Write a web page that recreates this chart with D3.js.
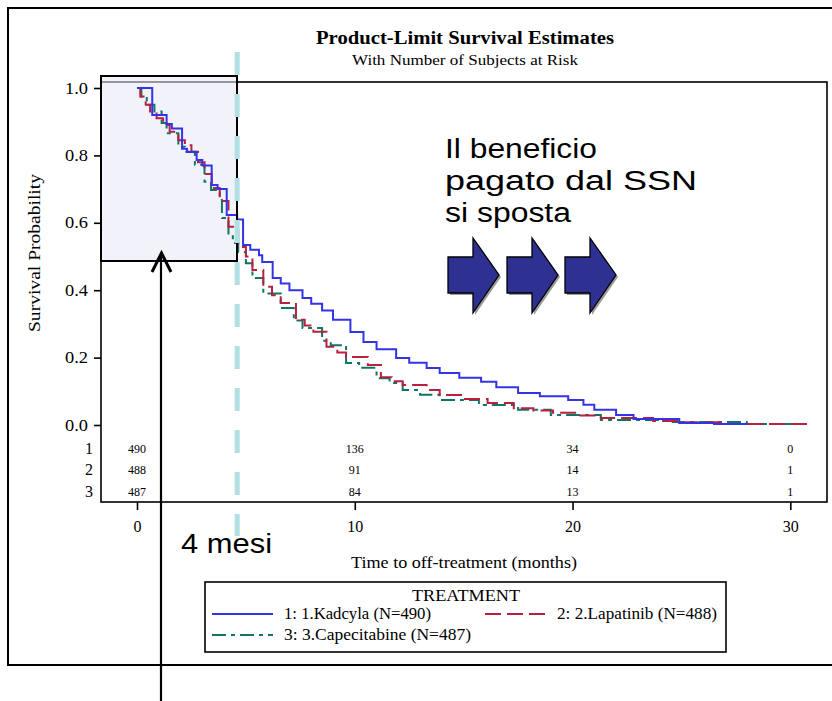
<!DOCTYPE html>
<html>
<head>
<meta charset="utf-8">
<script src="https://cdn.jsdelivr.net/npm/d3@7/dist/d3.min.js"></script>
<style>
  html, body { margin: 0; padding: 0; background: #fff; }
  svg { display: block; }
</style>
</head>
<body>
<svg id="chart" width="832" height="701"></svg>
<script>
// ---------- DATA ----------
const seriesNames = ["1: 1.Kadcyla (N=490)", "2: 2.Lapatinib (N=488)", "3: 3.Capecitabine (N=487)"];
const seriesIds = ["1", "2", "3"];

const kadcylaT = [0, 0.7, 1.36, 1.6, 2.07, 2.3, 2.74, 3.0, 3.43, 3.7, 4.12, 4.6, 4.87, 5.2, 5.6, 5.75, 6.23, 6.6, 7.0, 7.6, 8.0, 8.5, 9.0, 9.8, 10.4, 11.0, 11.9, 12.5, 13.3, 13.9, 14.8, 15.8, 16.5, 17.5, 18.5, 19.8, 20.5, 21.0, 22.0, 22.8, 24.9, 26.5, 28.0];
const kadcylaS = [1.0, 0.92, 0.893, 0.88, 0.82, 0.81, 0.786, 0.77, 0.712, 0.70, 0.623, 0.61, 0.534, 0.52, 0.504, 0.484, 0.436, 0.42, 0.40, 0.377, 0.36, 0.34, 0.312, 0.276, 0.246, 0.225, 0.199, 0.185, 0.169, 0.154, 0.14, 0.128, 0.112, 0.095, 0.085, 0.074, 0.06, 0.045, 0.03, 0.018, 0.006, 0.003, 0.0];

const lapatinibT = [0, 0.15, 0.4, 0.6, 0.9, 1.2, 1.5, 1.9, 2.2, 2.5, 2.8, 3.1, 3.43, 3.8, 4.2, 4.65, 5.0, 5.3, 5.8, 6.2, 6.6, 7.3, 7.7, 8.1, 8.7, 9.2, 9.6, 10.6, 11.2, 11.7, 12.2, 13.3, 13.9, 15.0, 16.1, 17.3, 18.2, 19.1, 20.2, 21.3, 23.7, 25.0, 26.8, 30.8];
const lapatinibS = [1.0, 0.975, 0.95, 0.93, 0.91, 0.89, 0.87, 0.845, 0.83, 0.811, 0.78, 0.745, 0.703, 0.665, 0.588, 0.528, 0.50, 0.46, 0.41, 0.385, 0.362, 0.312, 0.295, 0.277, 0.232, 0.215, 0.202, 0.178, 0.142, 0.13, 0.119, 0.104, 0.089, 0.077, 0.065, 0.05, 0.043, 0.036, 0.028, 0.021, 0.012, 0.008, 0.003, 0.003];

const capecitabineT = [0, 0.2, 0.45, 0.8, 1.13, 1.36, 1.9, 2.2, 2.66, 3.1, 3.4, 3.8, 3.9, 4.2, 4.4, 4.65, 5.0, 5.3, 5.8, 6.6, 7.2, 7.6, 8.5, 8.9, 9.6, 10.2, 11.0, 11.6, 12.2, 13.0, 13.9, 15.7, 17.5, 19.0, 21.3, 24.6, 28.0, 30.8];
const capecitabineS = [1.0, 0.97, 0.95, 0.93, 0.896, 0.866, 0.826, 0.811, 0.772, 0.722, 0.697, 0.674, 0.614, 0.564, 0.54, 0.513, 0.48, 0.436, 0.39, 0.347, 0.31, 0.288, 0.25, 0.237, 0.184, 0.17, 0.139, 0.125, 0.104, 0.09, 0.074, 0.059, 0.045, 0.03, 0.015, 0.009, 0.003, 0.003];

const atRiskTimes = [0, 10, 20, 30];
const atRisk1 = [490, 136, 34, 0];
const atRisk2 = [488, 91, 14, 1];
const atRisk3 = [487, 84, 13, 1];

const xTicks = [0, 10, 20, 30];
const yTicks = [0.0, 0.2, 0.4, 0.6, 0.8, 1.0];
const markerMonths = 4.6;

const titleText = "Product-Limit Survival Estimates";
const subtitleText = "With Number of Subjects at Risk";
const xTitle = "Time to off-treatment (months)";
const yTitle = "Survival Probability";
const legendTitle = "TREATMENT";
const noteLines = ["Il beneficio", "pagato dal SSN", "si sposta"];
const markerLabel = "4 mesi";

// ---------- SETUP ----------
const svg = d3.select("#chart");
const serif = "'Liberation Serif', 'Times New Roman', serif";
const sans = "'Liberation Sans', Arial, sans-serif";
const colors = ["#3434e6", "#b8203e", "#107565"];
const dashes = [null, "16,6", "14,5,4,5"];

const x = d3.scaleLinear().domain([0, 30]).range([137, 790.3]);
const y = d3.scaleLinear().domain([0, 1]).range([425, 88]);

const frame = { left: 101, top: 82, right: 827, bottom: 502 };

// outer frame
svg.append("rect").attr("x", 8).attr("y", 8).attr("width", 840).attr("height", 657)
  .attr("fill", "none").attr("stroke", "#000").attr("stroke-width", 2);

// titles
svg.append("text").attr("x", 465).attr("y", 44).attr("text-anchor", "middle")
  .attr("font-family", serif).attr("font-weight", "bold").attr("font-size", 18)
  .attr("textLength", 298).attr("lengthAdjust", "spacingAndGlyphs").text(titleText);
svg.append("text").attr("x", 465).attr("y", 65).attr("text-anchor", "middle")
  .attr("font-family", serif).attr("font-size", 14)
  .attr("textLength", 226).attr("lengthAdjust", "spacingAndGlyphs").text(subtitleText);

// plot frame
svg.append("rect").attr("x", frame.left).attr("y", frame.top)
  .attr("width", frame.right - frame.left).attr("height", frame.bottom - frame.top)
  .attr("fill", "none").attr("stroke", "#000").attr("stroke-width", 1.6);

// highlight box fill (behind curves)
svg.append("rect").attr("x", 101).attr("y", 76).attr("width", 136).attr("height", 185)
  .attr("fill", "#e8e8f6").attr("fill-opacity", 0.55);

// y axis
const yAxis = d3.axisLeft(y).tickValues(yTicks).tickFormat(d3.format(".1f")).tickSize(7).tickPadding(6);
const gy = svg.append("g").attr("transform", `translate(${frame.left},0)`).call(yAxis);
gy.select(".domain").remove();
gy.selectAll("line").attr("stroke", "#000").attr("stroke-width", 1.6);
gy.selectAll("text").attr("font-family", serif).attr("font-size", 16).attr("fill", "#000")
  .attr("textLength", 23).attr("lengthAdjust", "spacingAndGlyphs");

svg.append("text").attr("transform", "translate(40,253) rotate(-90)").attr("text-anchor", "middle")
  .attr("font-family", serif).attr("font-size", 16)
  .attr("textLength", 158).attr("lengthAdjust", "spacingAndGlyphs").text(yTitle);

// x axis
const xAxis = d3.axisBottom(x).tickValues(xTicks).tickFormat(d3.format("d")).tickSize(8).tickPadding(11);
const gx = svg.append("g").attr("transform", `translate(0,${frame.bottom})`).call(xAxis);
gx.select(".domain").remove();
gx.selectAll("line").attr("stroke", "#000").attr("stroke-width", 1.6);
gx.selectAll("text").attr("font-family", serif).attr("font-size", 16).attr("fill", "#000");

svg.append("text").attr("x", 464).attr("y", 568).attr("text-anchor", "middle")
  .attr("font-family", serif).attr("font-size", 16)
  .attr("textLength", 226).attr("lengthAdjust", "spacingAndGlyphs").text(xTitle);

// curves
const seriesT = [kadcylaT, lapatinibT, capecitabineT];
const seriesS = [kadcylaS, lapatinibS, capecitabineS];
const line = d3.line().x(d => x(d[0])).y(d => y(d[1])).curve(d3.curveStepAfter);
[2, 1, 0].forEach(i => {
  const pts = seriesT[i].map((t, k) => [t, seriesS[i][k]]);
  const p = svg.append("path").datum(pts).attr("d", line)
    .attr("fill", "none").attr("stroke", colors[i]).attr("stroke-width", 2);
  if (dashes[i]) p.attr("stroke-dasharray", dashes[i]);
});

// at-risk table
const rowY = [454, 475, 497];
const atRisk = [atRisk1, atRisk2, atRisk3];
atRisk.forEach((row, r) => {
  svg.append("text").attr("x", 93).attr("y", rowY[r]).attr("text-anchor", "end")
    .attr("font-family", serif).attr("font-size", 16).text(seriesIds[r]);
  row.forEach((v, c) => {
    svg.append("text").attr("x", x(atRiskTimes[c])).attr("y", rowY[r] - 1).attr("text-anchor", "middle")
      .attr("font-family", serif).attr("font-size", 12).text(v);
  });
});

// highlight box outline
svg.append("rect").attr("x", 101).attr("y", 76).attr("width", 136).attr("height", 185)
  .attr("fill", "none").attr("stroke", "#000").attr("stroke-width", 2);

// cyan dashed marker line
svg.append("line").attr("x1", x(markerMonths)).attr("x2", x(markerMonths)).attr("y1", 52).attr("y2", 536)
  .attr("stroke", "#b2dfe4").attr("stroke-width", 5).attr("stroke-dasharray", "23,19");

// vertical arrow
svg.append("line").attr("x1", 161).attr("x2", 161).attr("y1", 256).attr("y2", 701)
  .attr("stroke", "#000").attr("stroke-width", 2.2);
svg.append("path").attr("d", "M152,272 L161.5,253 L171,272")
  .attr("fill", "none").attr("stroke", "#000").attr("stroke-width", 3);

// 4 mesi label
svg.append("text").attr("x", 181).attr("y", 553).attr("font-family", sans).attr("font-size", 27)
  .attr("textLength", 91).attr("lengthAdjust", "spacingAndGlyphs").text(markerLabel);

// note text
const noteLen = [152, 252, 126];
noteLines.forEach((t, i) => {
  svg.append("text").attr("x", 445).attr("y", 158 + i * 32).attr("font-family", sans).attr("font-size", 27)
    .attr("textLength", noteLen[i]).attr("lengthAdjust", "spacingAndGlyphs").text(t);
});

// block arrows
const arrowX = [448, 507, 565];
arrowX.forEach(ax => {
  const d = `M${ax},257 L${ax + 25},257 L${ax + 25},238 L${ax + 51},275 L${ax + 25},313 L${ax + 25},293 L${ax},293 Z`;
  svg.append("path").attr("d", d).attr("transform", "translate(2,2)").attr("fill", "#9a9a9a");
  svg.append("path").attr("d", d).attr("fill", "#2e3192").attr("stroke", "#000").attr("stroke-width", 1.3);
});

// legend
const lg = svg.append("g");
lg.append("rect").attr("x", 205).attr("y", 582).attr("width", 521).attr("height", 70)
  .attr("fill", "#fff").attr("stroke", "#000").attr("stroke-width", 1.6);
lg.append("text").attr("x", 466).attr("y", 601).attr("text-anchor", "middle")
  .attr("font-family", serif).attr("font-size", 16)
  .attr("textLength", 108).attr("lengthAdjust", "spacingAndGlyphs").text(legendTitle);
const legPos = [
  { lx: 212, ly: 614, tx: 284, len: 147 },
  { lx: 485, ly: 614, tx: 557, len: 160 },
  { lx: 212, ly: 635, tx: 284, len: 187 }
];
legPos.forEach((p, i) => {
  const l = lg.append("line").attr("x1", p.lx).attr("x2", p.lx + 61).attr("y1", p.ly).attr("y2", p.ly)
    .attr("stroke", colors[i]).attr("stroke-width", 1.8);
  if (dashes[i]) l.attr("stroke-dasharray", dashes[i]);
  lg.append("text").attr("x", p.tx).attr("y", p.ly + 5).attr("font-family", serif).attr("font-size", 16)
    .attr("textLength", p.len).attr("lengthAdjust", "spacingAndGlyphs").text(seriesNames[i]);
});
</script>
</body>
</html>
